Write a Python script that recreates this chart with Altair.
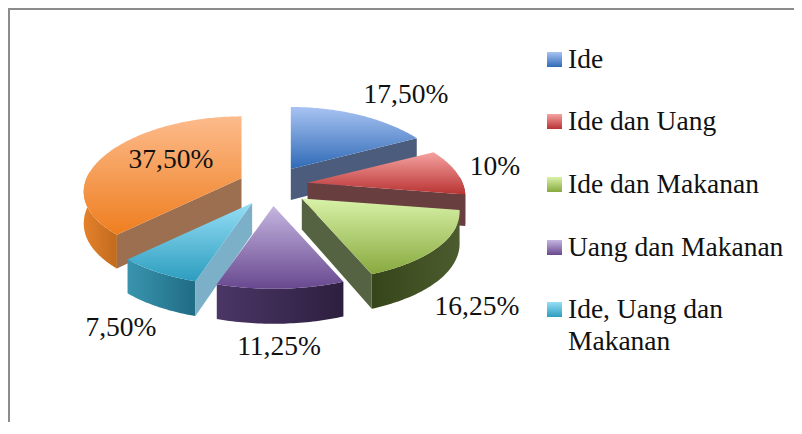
import math
import altair as alt

names = ["Ide", "Ide dan Uang", "Ide dan Makanan", "Uang dan Makanan", "Ide, Uang dan Makanan", "Lainnya"]
shares = [17.5, 10, 16.25, 11.25, 7.5, 37.5]
value_labels = ["17,50%", "10%", "16,25%", "11,25%", "7,50%", "37,50%"]

top_stops = [("#a8c3f2", "#2f6ab6"), ("#f5a3a1", "#b93333"), ("#d8f2a8", "#88a93e"),
             ("#c5b6e0", "#68488f"), ("#96def6", "#2c9dbf"), ("#fdbb8c", "#ee7e1f")]
rim_stops = [("#7b3436", "#7b3436"), ("#7b3436", "#6b2c2e"), ("#37461a", "#4c5c2e"),
             ("#4b3666", "#2d1f3f"), ("#3a94ae", "#1f6c84"), ("#e5812b", "#c06b1e")]
wall_color = ["#4c5c7c", "#693e3f", "#566342", None, "#7bb0c8", "#9b6f50"]
wall_side = ["end", "end", "end", None, "start", "start"]
paint_order = [0, 5, 1, 4, 2, 3]
explode_x = [36, 36, 38, 38, 38, 33]

OX, OY = 8, 8
CX, CY = 272, 186


def project(deg):
    t = math.radians(deg)
    sx, front = math.sin(t), -math.cos(t)
    return (155 + 30 * front) * sx, front * (72.4 + 10.4 * front), 31 + 4 * front


def shape(points):
    ring = [[round(x - OX, 2), round(y - OY, 2)] for x, y in points]
    ring.append(ring[0])
    return [{"type": "Feature", "properties": {}, "geometry": {"type": "Polygon", "coordinates": [ring]}}]


def grad(pair, horizontal=False):
    return alt.LinearGradient(
        gradient="linear",
        x1=0, y1=0, x2=1 if horizontal else 0, y2=0 if horizontal else 1,
        stops=[alt.GradientStop(offset=0, color=pair[0]), alt.GradientStop(offset=1, color=pair[1])],
    )


def geo(points, fill):
    return (
        alt.Chart(alt.Data(values=shape(points)))
        .mark_geoshape(fill=fill, strokeWidth=0, stroke=None)
        .project(type="identity", scale=1, translate=[0, 0])
    )


starts = [sum(shares[:i]) * 3.6 for i in range(len(shares))]
layers = []

layers.append(alt.Chart(alt.Data(values=[{"a": 1}])).mark_rect(color="#8c8c8c").encode(
    x=alt.value(0), x2=alt.value(786), y=alt.value(0), y2=alt.value(2)))
layers.append(alt.Chart(alt.Data(values=[{"a": 1}])).mark_rect(color="#8c8c8c").encode(
    x=alt.value(0), x2=alt.value(2), y=alt.value(0), y2=alt.value(414)))

for i in paint_order:
    a0 = starts[i]
    a1 = a0 + shares[i] * 3.6
    mid = math.radians((a0 + a1) / 2)
    ax, ay = CX + explode_x[i] * math.sin(mid), CY - 20 * math.cos(mid)
    n = max(8, int(a1 - a0))
    arc = [a0 + (a1 - a0) * k / n for k in range(n + 1)]
    edge = [(ax + project(a)[0], ay + project(a)[1]) for a in arc]

    lo, hi = max(a0, 85), min(a1, 275)
    if hi > lo:
        rim_angles = [lo + (hi - lo) * k / n for k in range(n + 1)]
        upper = [(ax + project(a)[0], ay + project(a)[1]) for a in rim_angles]
        lower = [(ax + project(a)[0], ay + project(a)[1] + project(a)[2]) for a in reversed(rim_angles)]
        layers.append(geo(upper + lower, grad(rim_stops[i], horizontal=True)))

    if wall_side[i]:
        a = a1 if wall_side[i] == "end" else a0
        px, py, d = project(a)
        layers.append(geo([(ax, ay), (ax + px, ay + py), (ax + px, ay + py + d), (ax, ay + 31)], wall_color[i]))

    layers.append(geo([(ax, ay)] + edge, grad(top_stops[i])))

FONT = "Liberation Serif"
SIZE = 27.5
label_xy = [(406, 95), (495, 167), (477, 307), (279, 347), (121, 328), (171, 160)]
for txt, (x, y) in zip(value_labels, label_xy):
    layers.append(alt.Chart(alt.Data(values=[{"t": txt}])).mark_text(
        font=FONT, fontSize=SIZE, color="#111111", align="center", baseline="middle",
        x=x - OX, y=y - OY).encode(text="t:N"))

legend_y = [60, 122, 185, 248, 310]
for i, y in enumerate(legend_y):
    layers.append(alt.Chart(alt.Data(values=[{"a": 1}])).mark_rect(fill=grad(top_stops[i])).encode(
        x=alt.value(547 - OX), x2=alt.value(562 - OX),
        y=alt.value(y - 8 - OY), y2=alt.value(y + 7 - OY)))
legend_lines = [[names[0]], [names[1]], [names[2]], [names[3]], ["Ide, Uang dan", "Makanan"]]
for lines, y in zip(legend_lines, legend_y):
    for j, line in enumerate(lines):
        layers.append(alt.Chart(alt.Data(values=[{"t": line}])).mark_text(
            font=FONT, fontSize=SIZE, color="#111111", align="left", baseline="middle",
            x=568 - OX, y=y + 32 * j - OY).encode(text="t:N"))

chart = alt.layer(*layers).properties(
    width=786, height=414, padding=0,
    autosize=alt.AutoSizeParams(type="none"),
    background="white",
).configure_view(stroke=None)

chart.save("out.html", embed_options={"renderer": "svg", "actions": False})
